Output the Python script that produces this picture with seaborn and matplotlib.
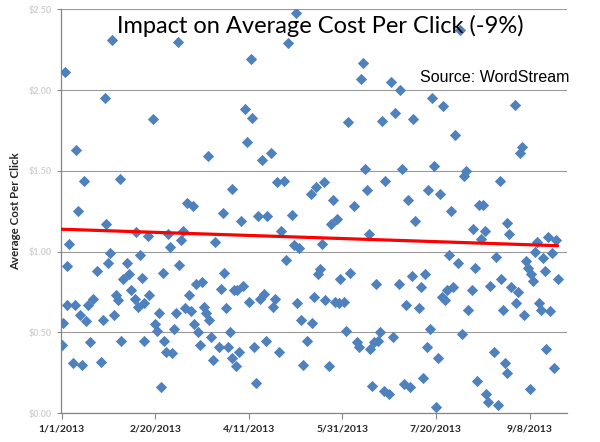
import pandas as pd
import numpy as np
import matplotlib
matplotlib.use('Agg')
import matplotlib.pyplot as plt
import seaborn as sns

# daily average CPC (day offset from 1/1/2013, cpc in $)
days = [2, 27, 23, 8, 12, 31, 9, 24, 40, 4, 26, 42, 3, 25, 19, 35, 33, 36, 43, 37, 29, 30, 39, 41, 44,
        3, 7, 14, 17, 10, 13, 22, 28, 1, 0, 15, 32, 44, 6, 11, 21,
        62, 49, 78, 91, 67, 70, 86, 46, 57, 65, 58, 64, 82, 54, 63, 87, 72, 75, 85, 47, 68, 92, 66, 69,
        76, 88, 52, 61, 77, 79, 50, 51, 60, 71, 73, 90, 55, 80, 74, 84, 89, 56, 59, 81, 91, 53,
        125, 121, 101, 98, 102, 99, 107, 112, 115, 119, 133, 136, 140, 96, 105, 110, 123, 117, 124, 127,
        139, 120, 137, 138, 94, 97, 100, 106, 108, 114, 113, 126, 135, 141, 128, 134, 95, 93, 103, 109,
        116, 131, 129, 104,
        161, 160, 176, 181, 153, 171, 178, 188, 162, 182, 173, 145, 163, 156, 185, 189, 144, 147, 164, 149,
        154, 168, 180, 187, 146, 148, 151, 184, 152, 170, 158, 159, 167, 169, 165, 177, 143, 166, 172, 175,
        183, 186,
        213, 198, 204, 210, 199, 216, 215, 234, 196, 202, 208, 223, 225, 220, 226, 224, 207, 212, 232, 221,
        194, 235, 192, 229, 203, 205, 206, 209, 219, 191, 217, 236, 197, 214, 195, 201, 231, 237, 193, 222,
        227, 228, 233, 200,
        242, 246, 245, 238, 239, 254, 260, 264, 253, 262, 257, 248, 249, 251, 258, 252, 265, 240, 244, 243,
        247, 255, 256, 261, 259, 263, 238, 250]

cpc = [2.11, 2.31, 1.95, 1.63, 1.44, 1.45, 1.25, 1.17, 1.12, 1.05, 0.99, 0.98, 0.91, 0.93, 0.88, 0.93,
       0.83, 0.86, 0.84, 0.76, 0.73, 0.70, 0.71, 0.66, 0.68, 0.67, 0.67, 0.67, 0.71, 0.61, 0.57, 0.58,
       0.61, 0.56, 0.42, 0.44, 0.45, 0.45, 0.31, 0.30, 0.32,
       2.30, 1.82, 1.59, 1.39, 1.30, 1.28, 1.24, 1.10, 1.11, 1.13, 1.03, 1.07, 1.06, 0.87, 0.92, 0.87,
       0.80, 0.81, 0.77, 0.73, 0.73, 0.76, 0.65, 0.63, 0.66, 0.65, 0.62, 0.62, 0.62, 0.58, 0.55, 0.51,
       0.52, 0.55, 0.50, 0.50, 0.45, 0.47, 0.42, 0.41, 0.41, 0.38, 0.37, 0.33, 0.34, 0.16,
       2.48, 2.29, 2.19, 1.88, 1.83, 1.68, 1.57, 1.61, 1.43, 1.44, 1.36, 1.40, 1.43, 1.19, 1.22, 1.22,
       1.23, 1.13, 1.04, 1.02, 1.05, 0.95, 0.86, 0.89, 0.76, 0.79, 0.69, 0.71, 0.74, 0.71, 0.66, 0.68,
       0.72, 0.70, 0.58, 0.56, 0.38, 0.29, 0.41, 0.45, 0.38, 0.45, 0.30, 0.19,
       2.17, 2.07, 2.05, 2.00, 1.80, 1.81, 1.86, 1.82, 1.51, 1.51, 1.44, 1.32, 1.38, 1.28, 1.32, 1.19,
       1.17, 1.20, 1.11, 0.83, 0.87, 0.80, 0.80, 0.85, 0.69, 0.68, 0.69, 0.67, 0.51, 0.50, 0.44, 0.41,
       0.44, 0.45, 0.40, 0.47, 0.29, 0.17, 0.14, 0.12, 0.18, 0.16,
       2.37, 1.95, 1.90, 1.72, 1.53, 1.50, 1.47, 1.44, 1.38, 1.36, 1.25, 1.29, 1.29, 1.14, 1.13, 1.08,
       0.98, 0.93, 0.97, 0.90, 0.86, 0.83, 0.78, 0.79, 0.72, 0.70, 0.76, 0.78, 0.76, 0.65, 0.64, 0.64,
       0.52, 0.49, 0.41, 0.34, 0.38, 0.31, 0.22, 0.20, 0.12, 0.07, 0.05, 0.04,
       1.91, 1.65, 1.61, 1.18, 1.11, 1.06, 1.09, 1.07, 1.00, 0.99, 0.96, 0.94, 0.90, 0.86, 0.88, 0.82,
       0.83, 0.78, 0.75, 0.68, 0.61, 0.68, 0.64, 0.63, 0.40, 0.28, 0.25, 0.15]

# linear trend endpoints (-9%)
trend_days = [0, 265]
trend_cpc = [1.139, 1.037]

tick_labels = ['1/1/2013', '2/20/2013', '4/11/2013', '5/31/2013', '7/20/2013', '9/8/2013']
y_ticks = [0.0, 0.5, 1.0, 1.5, 2.0, 2.5]
y_tick_labels = ['$0.00', '$0.50', '$1.00', '$1.50', '$2.00', '$2.50']

sns.set_style('white')
plt.rcParams['font.family'] = ['Lato', 'DejaVu Sans']

start = pd.Timestamp('2013-01-01')
df = pd.DataFrame({'date': start + pd.to_timedelta(days, unit='D'), 'cpc': cpc})
trend = pd.DataFrame({'date': start + pd.to_timedelta(trend_days, unit='D'), 'cpc': trend_cpc})

fig = plt.figure(figsize=(6, 4.42), dpi=100)
ax = fig.add_axes([0.1025, 0.065, 0.8425, 0.914])

sns.scatterplot(data=df, x='date', y='cpc', marker='D', s=33, color='#4F81BD',
                linewidth=0, ax=ax, zorder=3)
sns.lineplot(data=trend, x='date', y='cpc', color='#FF0000', linewidth=2.3, ax=ax, zorder=4)

ax.set_xlim(start, start + pd.Timedelta(days=270))
ax.set_ylim(0, 2.5)
ax.set_xticks(pd.to_datetime(tick_labels, format='%m/%d/%Y'))
ax.set_xticklabels(tick_labels, fontweight='bold', fontsize=7.5, color='#262626')
ax.set_yticks(y_ticks)
ax.set_yticklabels(y_tick_labels, fontweight='bold', fontsize=6.5, color='#cfcfcf')
ax.tick_params(axis='x', direction='out', length=4, color='#868686', pad=4, bottom=True)
ax.tick_params(axis='y', direction='out', length=3, color='#868686', pad=4, left=True)

ax.yaxis.grid(True, color='#9a9a9a', linewidth=0.8)
ax.xaxis.grid(False)
ax.set_axisbelow(True)
for side in ['top', 'right']:
    ax.spines[side].set_visible(False)
for side in ['left', 'bottom']:
    ax.spines[side].set_color('#868686')
    ax.spines[side].set_linewidth(0.9)

ax.set_xlabel('')
ax.set_ylabel('Average Cost Per Click', fontsize=8.3, fontweight='bold')
ax.yaxis.set_label_coords(-0.080, 0.5)

fig.text(0.534, 0.925, 'Impact on Average Cost Per Click (-9%)', ha='center', va='baseline',
         fontsize=17, color='black')
fig.text(0.70, 0.8145, 'Source: WordStream', ha='left', va='baseline',
         fontsize=11.5, family='Liberation Sans', color='black')

fig.savefig('out.png', dpi=100)
